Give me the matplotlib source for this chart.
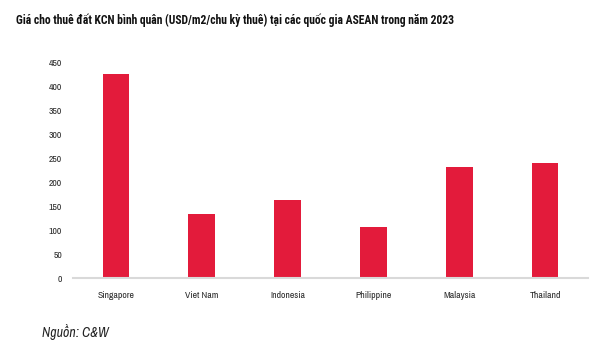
import matplotlib.pyplot as plt

# data
countries = ['Singapore', 'Viet Nam', 'Indonesia', 'Philippine', 'Malaysia', 'Thailand']
prices = [425, 134, 163, 107, 232, 240]
yticks = [0, 50, 100, 150, 200, 250, 300, 350, 400, 450]

plt.rcParams['font.family'] = ['Liberation Sans Narrow', 'Archivo Narrow', 'DejaVu Sans']
title_fonts = ['Roboto Condensed', 'Barlow Semi Condensed', 'DejaVu Sans']

fig = plt.figure(figsize=(6.14, 3.45), dpi=100)
ax = fig.add_axes([73 / 614, 67 / 345, 515 / 614, 216 / 345])

x = list(range(len(countries)))
ax.bar(x, prices, width=0.31, color='#E31B3B', zorder=2)

ax.set_xlim(-0.5, len(countries) - 0.5)
ax.set_ylim(0, 450)
ax.set_yticks(yticks)
ax.set_xticks(x)
ax.set_xticklabels(countries)
ax.tick_params(axis='both', length=0, labelsize=7, colors='#2b2b2b')
ax.tick_params(axis='x', pad=9)
ax.tick_params(axis='y', pad=8)

for s in ['top', 'right', 'left']:
    ax.spines[s].set_visible(False)
ax.spines['bottom'].set_color('#d9d9d9')
ax.spines['bottom'].set_linewidth(1.5)

fig.text(16 / 614, 1 - 20 / 345,
         'Giá cho thuê đất KCN bình quân (USD/m2/chu kỳ thuê) tại các quốc gia ASEAN trong năm 2023',
         fontsize=8.4, fontweight='bold', family=title_fonts, color='#111111',
         va='center', ha='left')
fig.text(42 / 614, 1 - 332 / 345, 'Nguồn: C&W', fontsize=10, style='italic',
         color='#222222', va='center', ha='left')

fig.savefig('out.png', dpi=100)
